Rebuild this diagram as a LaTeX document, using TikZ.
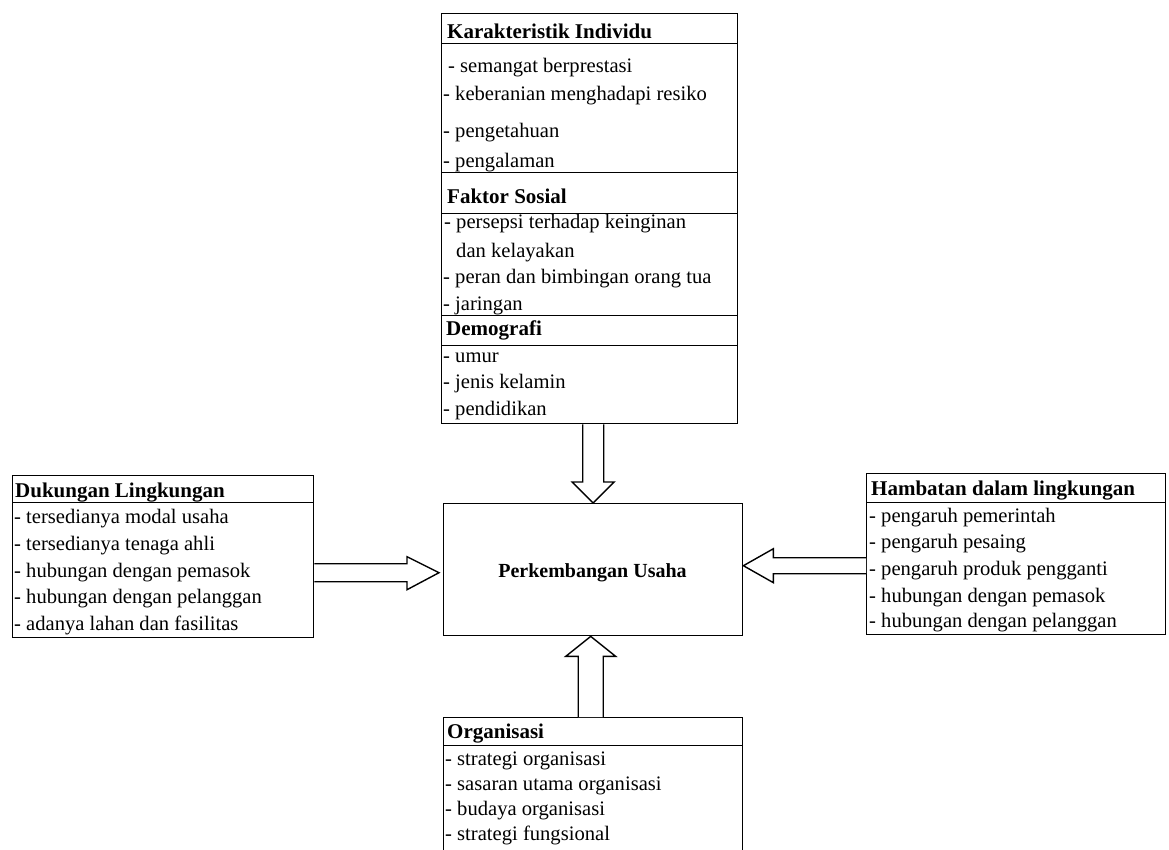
\documentclass[tikz,border=0pt]{standalone}
\usepackage{fontspec}
\setmainfont{Liberation Serif}
\usetikzlibrary{calc}
\begin{document}
\begin{tikzpicture}[x=1pt,y=-1pt,
  sec/.style={draw, line width=1.4pt, rectangle, anchor=north west, inner sep=0pt},
  hd/.style={anchor=base west, inner sep=0pt, font=\fontsize{21}{25}\selectfont\bfseries},
  it/.style={anchor=base west, inner sep=0pt, font=\fontsize{20.6}{24}\selectfont},
  blk/.style={draw, fill=white, line width=1.4pt, line join=miter}]
\useasboundingbox (0,0) rectangle (1169,849);
% ---- Karakteristik / Faktor Sosial / Demografi
\node[sec, minimum width=296pt, minimum height=30pt]  (kih) at (441,13)  {};
\node[sec, minimum width=296pt, minimum height=129pt] (kib) at (441,43)  {};
\node[sec, minimum width=296pt, minimum height=41pt]  (fsh) at (441,172) {};
\node[sec, minimum width=296pt, minimum height=102pt] (fsb) at (441,213) {};
\node[sec, minimum width=296pt, minimum height=30pt]  (dmh) at (441,315) {};
\node[sec, minimum width=296pt, minimum height=78pt]  (dmb) at (441,345) {};
\node[hd] (t1)  at (447,38)  {Karakteristik Individu};
\node[it] (t2)  at (448,72)  {- semangat berprestasi};
\node[it] (t3)  at (443,100) {- keberanian menghadapi resiko};
\node[it] (t4)  at (443,137) {- pengetahuan};
\node[it] (t5)  at (443,167) {- pengalaman};
\node[hd] (t6)  at (447,203) {Faktor Sosial};
\node[it] (t7)  at (444,228) {- persepsi terhadap keinginan};
\node[it] (t8)  at (444,257) {\phantom{- }dan kelayakan};
\node[it] (t9)  at (443,283) {- peran dan bimbingan orang tua};
\node[it] (t10) at (443,310) {- jaringan};
\node[hd] (t11) at (446,335) {Demografi};
\node[it] (t12) at (443,362) {- umur};
\node[it] (t13) at (443,388) {- jenis kelamin};
\node[it] (t14) at (443,415) {- pendidikan};
% ---- centre
\node[sec, minimum width=299pt, minimum height=132pt] (cen) at (443,503) {};
\node[anchor=base, inner sep=0pt, font=\fontsize{20}{24}\selectfont\bfseries] (cent) at (592.5,577) {Perkembangan Usaha};
% ---- Dukungan Lingkungan
\node[sec, minimum width=301pt, minimum height=27pt]  (dukh) at (12,475) {};
\node[sec, minimum width=301pt, minimum height=135pt] (dukb) at (12,502) {};
\node[hd] (d1) at (15,497) {Dukungan Lingkungan};
\node[it] (d2) at (14,523) {- tersedianya modal usaha};
\node[it] (d3) at (14,550) {- tersedianya tenaga ahli};
\node[it] (d4) at (14,577) {- hubungan dengan pemasok};
\node[it] (d5) at (14,603) {- hubungan dengan pelanggan};
\node[it] (d6) at (14,630) {- adanya lahan dan fasilitas};
% ---- Hambatan dalam lingkungan
\node[sec, minimum width=299pt, minimum height=29pt]  (hamh) at (866,473) {};
\node[sec, minimum width=299pt, minimum height=132pt] (hamb) at (866,502) {};
\node[hd] (h1) at (871,495) {Hambatan dalam lingkungan};
\node[it] (h2) at (869,522) {- pengaruh pemerintah};
\node[it] (h3) at (869,548) {- pengaruh pesaing};
\node[it] (h4) at (869,575) {- pengaruh produk pengganti};
\node[it] (h5) at (869,602) {- hubungan dengan pemasok};
\node[it] (h6) at (869,627) {- hubungan dengan pelanggan};
% ---- Organisasi
\node[sec, minimum width=299pt, minimum height=28pt]  (orgh) at (443,717) {};
\node[sec, minimum width=299pt, minimum height=140pt] (orgb) at (443,745) {};
\node[hd] (o1) at (447,738) {Organisasi};
\node[it] (o2) at (445,765) {- strategi organisasi};
\node[it] (o3) at (445,790) {- sasaran utama organisasi};
\node[it] (o4) at (445,815) {- budaya organisasi};
\node[it] (o5) at (445,840) {- strategi fungsional};
% ---- block arrows
% down: Demografi -> centre
\draw[blk] let \p1=(dmb.south), \p2=(cen.north) in
  (\x2-10.5pt,\y1) -- (\x2-10.5pt,\y2+21pt) -- (\x2-21pt,\y2+21pt) -- (\x2,\y2)
  -- (\x2+21pt,\y2+21pt) -- (\x2+10.5pt,\y2+21pt) -- (\x2+10.5pt,\y1);
% up: Organisasi -> centre
\draw[blk] let \p1=(orgh.north), \p2=(cen.south) in
  (\x2-15pt,\y1) -- (\x2-15pt,\y2-20pt) -- (\x2-27.5pt,\y2-20pt) -- (\x2-2.5pt,\y2)
  -- (\x2+22.5pt,\y2-20pt) -- (\x2+10pt,\y2-20pt) -- (\x2+10pt,\y1);
% right: Dukungan -> centre
\draw[blk] let \p1=(dukb.east), \p2=(cen.west) in
  (\x1,\y2+6pt) -- (\x2-36pt,\y2+6pt) -- (\x2-36pt,\y2+13pt) -- (\x2-4pt,\y2-3pt)
  -- (\x2-36pt,\y2-20pt) -- (\x2-36pt,\y2-12pt) -- (\x1,\y2-12pt);
% left: Hambatan -> centre
\draw[blk] let \p1=(hamb.west), \p2=(cen.east) in
  (\x1,\y2+12pt) -- (\x2+30pt,\y2+12pt) -- (\x2+30pt,\y2+21pt) -- (\x2,\y2+4pt)
  -- (\x2+30pt,\y2-13pt) -- (\x2+30pt,\y2-4pt) -- (\x1,\y2-4pt);
\end{tikzpicture}
\end{document}
